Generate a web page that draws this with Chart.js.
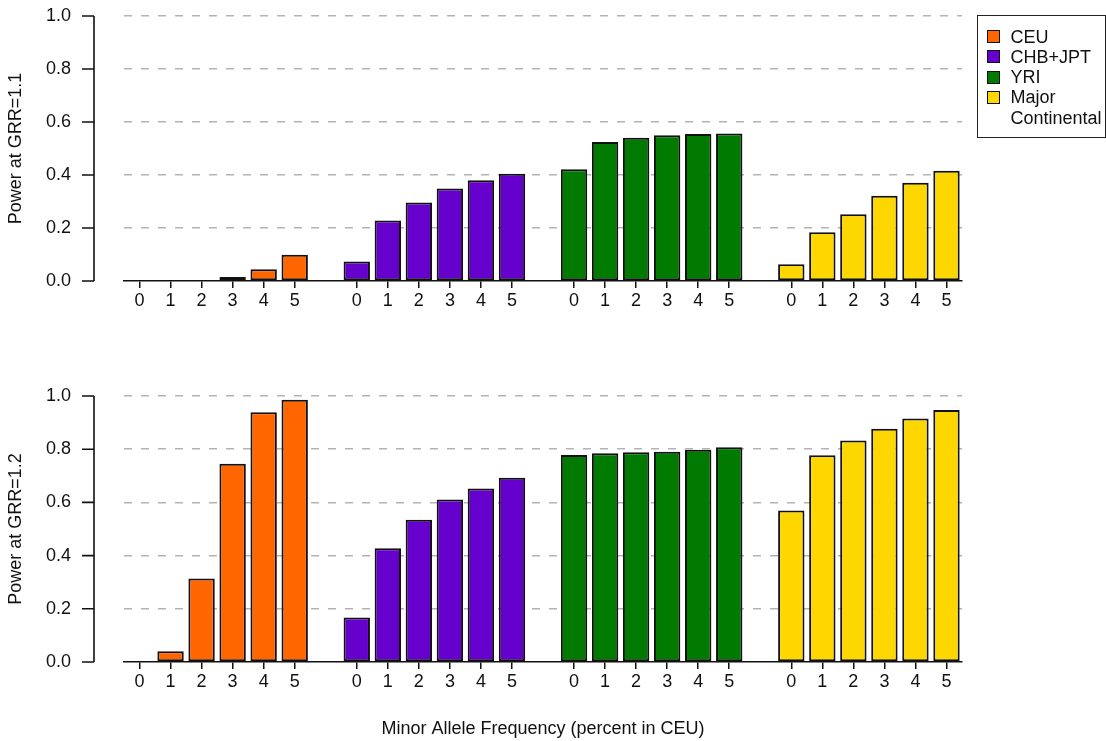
<!DOCTYPE html>
<html>
<head>
<meta charset="utf-8">
<script src="https://cdn.jsdelivr.net/npm/chart.js@4.4.0/dist/chart.umd.min.js"></script>
<style>
  html, body { margin: 0; padding: 0; background: #fff; }
  body { width: 1106px; height: 741px; position: relative; overflow: hidden;
         font-family: 'Liberation Sans', Arial, sans-serif; }
  .panel { position: absolute; left: 0; }
  #legend { position: absolute; left: 977px; top: 15px; width: 129px; height: 123px;
            box-sizing: border-box; border: 1.5px solid #222; padding: 10.5px 0 0 8.5px;
            font-size: 18px; line-height: 20.3px; color: #111; }
  .item { display: flex; align-items: flex-start; }
  .sw { width: 13px; height: 13px; box-sizing: border-box; border: 1.5px solid #111;
        margin: 3.6px 11px 0 0; flex: none; }
</style>
</head>
<body>
<div class="panel" style="top:0"><canvas id="top" width="1106" height="330"></canvas></div>
<div class="panel" style="top:340px"><canvas id="bottom" width="1106" height="401"></canvas></div>
<div id="legend"></div>

<script>
// MAF in CEU (percent), one block of bars per panel
const freqLabels = ["0", "1", "2", "3", "4", "5"]
const groupNames = ["CEU", "CHB+JPT", "YRI", "Major Continental"]
const groupColors = ["#ff6600", "#6600cc", "#007a00", "#ffd700"]
const yTicks = [0, 0.2, 0.4, 0.6, 0.8, 1.0]

// power at GRR = 1.1
const ceu11 = [0.001, 0.001, 0.003, 0.015, 0.044, 0.099]
const chb11 = [0.074, 0.228, 0.296, 0.349, 0.380, 0.405]
const yri11 = [0.422, 0.525, 0.541, 0.550, 0.555, 0.557]
const maj11 = [0.063, 0.184, 0.252, 0.322, 0.371, 0.416]

// power at GRR = 1.2
const ceu12 = [0.001, 0.040, 0.314, 0.745, 0.939, 0.986]
const chb12 = [0.167, 0.428, 0.535, 0.611, 0.652, 0.693]
const yri12 = [0.778, 0.785, 0.789, 0.790, 0.798, 0.807]
const maj12 = [0.570, 0.777, 0.833, 0.877, 0.915, 0.947]

Chart.defaults.font.family = "'Liberation Sans', Arial, sans-serif"
Chart.defaults.font.size = 18
Chart.defaults.color = "#111"

// 4 groups of 6 bars with one empty slot between groups
const SLOTS = groupNames.length * 7 - 1
const slotLabels = []
for (let i = 0; i < SLOTS; i++) slotLabels.push(i % 7 === 6 ? "" : freqLabels[i % 7])

function buildDatasets(groups) {
  return groups.map((vals, g) => {
    const data = new Array(SLOTS).fill(null)
    vals.forEach((v, i) => { data[g * 7 + i] = v })
    return {
      label: groupNames[g],
      data: data,
      backgroundColor: groupColors[g],
      borderColor: "#111",
      borderWidth: 2,
      borderSkipped: false,
      grouped: false,
      barPercentage: 0.85,
      categoryPercentage: 1
    }
  })
}

// R-style detached y axis line with ticks
const rAxis = {
  id: "rAxis",
  afterDraw(chart) {
    const y = chart.scales.y
    const ctx = chart.ctx
    const x0 = chart.chartArea.left - 30
    ctx.save()
    ctx.strokeStyle = "#111"
    ctx.lineWidth = 1.6
    ctx.beginPath()
    ctx.moveTo(x0, y.getPixelForValue(0))
    ctx.lineTo(x0, y.getPixelForValue(1))
    yTicks.forEach((t) => {
      const py = y.getPixelForValue(t)
      ctx.moveTo(x0 - 12, py)
      ctx.lineTo(x0, py)
    })
    ctx.stroke()
    ctx.restore()
  }
}

function makeChart(id, groups, yTitle, xTitle, padTop, xHeight) {
  return new Chart(document.getElementById(id), {
    type: "bar",
    data: { labels: slotLabels, datasets: buildDatasets(groups) },
    plugins: [rAxis],
    options: {
      responsive: false,
      devicePixelRatio: 1,
      animation: false,
      layout: { padding: { left: 0, right: 144, top: padTop, bottom: 0 } },
      plugins: { legend: { display: false }, tooltip: { enabled: false } },
      scales: {
        x: {
          offset: true,
          grid: {
            offset: false,
            drawOnChartArea: false,
            drawTicks: true,
            tickLength: 7,
            lineWidth: 1.5,
            color: (c) => (c.index % 7 === 6 ? "rgba(0,0,0,0)" : "#111")
          },
          border: { display: true, color: "#111", width: 1.6 },
          ticks: { autoSkip: false, maxRotation: 0, padding: 2 },
          title: { display: !!xTitle, text: xTitle || "", padding: { top: 0, bottom: 1 } },
          afterFit: (s) => { s.height = xHeight }
        },
        y: {
          min: 0,
          max: 1,
          afterBuildTicks: (s) => { s.ticks = yTicks.map((v) => ({ value: v })) },
          grid: {
            drawTicks: true,
            tickLength: 51,
            tickColor: "rgba(0,0,0,0)",
            lineWidth: 1.6,
            color: (c) => (c.tick && c.tick.value === 0 ? "rgba(0,0,0,0)" : "#b3b3b3")
          },
          border: { display: false, dash: [8, 9] },
          ticks: { padding: 2, callback: (v) => Number(v).toFixed(1) },
          title: { display: true, text: yTitle, padding: { top: 5, bottom: 0 } },
          afterFit: (s) => { s.width = 124 }
        }
      }
    }
  })
}

makeChart("top", [ceu11, chb11, yri11, maj11], "Power at GRR=1.1", null, 16, 49)
makeChart("bottom", [ceu12, chb12, yri12, maj12], "Power at GRR=1.2",
  "Minor Allele Frequency (percent in CEU)", 56, 79)

// boxed legend, top right
const legend = document.getElementById("legend")
groupNames.forEach((name, i) => {
  const row = document.createElement("div")
  row.className = "item"
  const sw = document.createElement("span")
  sw.className = "sw"
  sw.style.background = groupColors[i]
  const txt = document.createElement("span")
  txt.textContent = name
  row.appendChild(sw)
  row.appendChild(txt)
  legend.appendChild(row)
})
</script>
</body>
</html>
